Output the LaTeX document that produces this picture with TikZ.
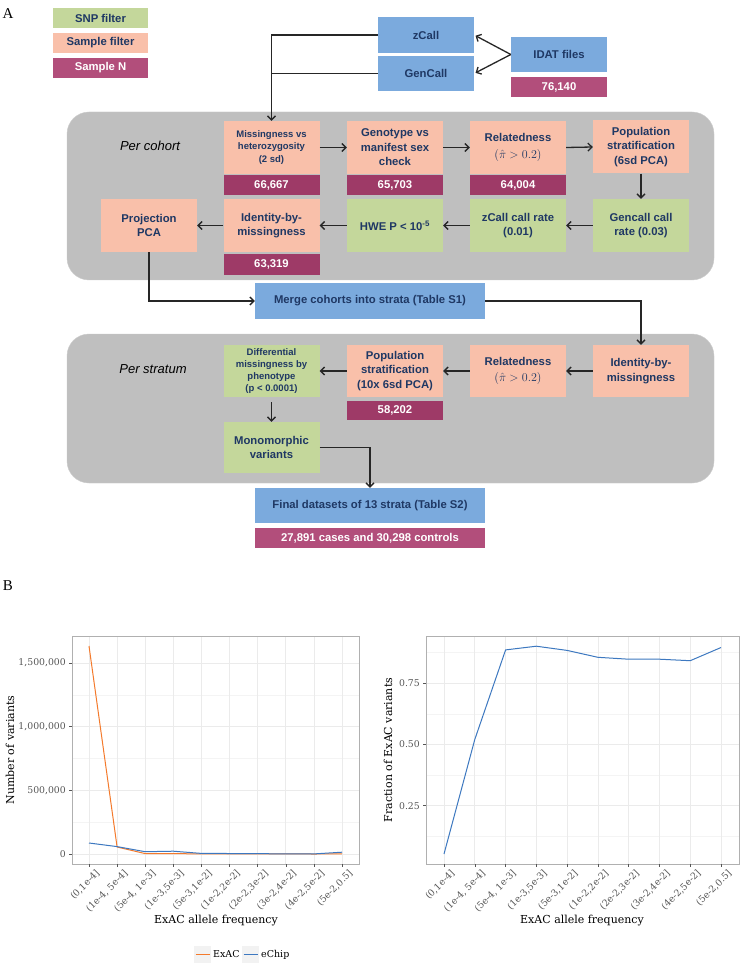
\documentclass[tikz,border=0pt]{standalone}
\usepackage{fontspec}
\setmainfont{Liberation Sans}
\newfontfamily\plotfont{DejaVu Serif}
\newfontfamily\labfont{Liberation Serif}
\usetikzlibrary{arrows.meta}
\definecolor{snpg}{HTML}{C4D79B}
\definecolor{samp}{HTML}{F9C0AA}
\definecolor{sampN}{HTML}{B24E7B}
\definecolor{cntN}{HTML}{9E3A67}
\definecolor{bluebox}{HTML}{7BAADD}
\definecolor{navy}{HTML}{1F3864}
\definecolor{panelgray}{HTML}{BFBFBF}
\definecolor{arrowc}{HTML}{262626}
\definecolor{exacc}{HTML}{F47A2C}
\definecolor{echipc}{HTML}{3D78C0}
\definecolor{gridmaj}{HTML}{EBEBEB}
\definecolor{gridmin}{HTML}{F4F4F4}
\definecolor{bordc}{HTML}{B0B0B0}
\definecolor{tickc}{HTML}{555555}
\tikzset{
  box/.style={draw=none, minimum width=96pt, inner sep=1pt, align=center, text=navy,
    font=\bfseries\fontsize{11.3}{14.5}\selectfont},
  snpbox/.style={box, fill=snpg},
  smpbox/.style={box, fill=samp},
  blubox/.style={box, fill=bluebox},
  cntbox/.style={box, fill=cntN, text=white, minimum height=20pt},
  legbox/.style={box, minimum width=95pt, minimum height=20pt},
  smallt/.style={font=\bfseries\fontsize{9.5}{12.3}\selectfont},
  arr/.style={-{Straight Barb[length=4pt,width=8pt]}, line width=1.3pt, draw=arrowc},
  ln/.style={line width=1.3pt, draw=arrowc},
  region/.style={fill=panelgray, draw=gray!40, rounded corners=22pt},
  regiontitle/.style={font=\itshape\fontsize{13}{13}\selectfont, text=black},
  ticklab/.style={font=\plotfont\fontsize{9.3}{11}\selectfont, text=tickc},
  axtitle/.style={font=\plotfont\fontsize{11}{13}\selectfont, text=black},
  majg/.style={draw=gridmaj, line width=0.6pt},
  ming/.style={draw=gridmin, line width=0.4pt},
  tickm/.style={draw=tickc, line width=0.5pt},
}
\newcommand{\relmath}{\fontsize{12.5}{14}\selectfont$(\hat{\pi} > 0.2)$}
\begin{document}
\begin{tikzpicture}[x=1pt,y=-1pt]
\useasboundingbox (0,0) rectangle (747,965);
\fill[white] (0,0) rectangle (747,965);

% panel letters
\node[font=\labfont\fontsize{15}{15}\selectfont] (labA) at (8,14) {A};
\node[font=\labfont\fontsize{15}{15}\selectfont] (labB) at (8,586) {B};

% legend
\node[legbox, fill=snpg] (legsnp) at (100.5,18) {SNP filter};
\node[legbox, fill=samp] (legsmp) at (100.5,43) {Sample filter};
\node[legbox, fill=sampN, text=white] (legn) at (100.5,68) {Sample N};

% gray regions
\draw[region] (67,112) rectangle (714,280);
\draw[region] (67,334) rectangle (714,483);
\node[regiontitle] (tcohort) at (150,146) {Per cohort};
\node[regiontitle] (tstratum) at (153,369) {Per stratum};

% top
\node[blubox, minimum height=36pt] (zcall) at (426,35) {zCall};
\node[blubox, minimum height=35pt] (gencall) at (426,73.5) {GenCall};
\node[blubox, minimum height=35pt] (idat) at (559,54.5) {IDAT files};
\node[cntbox, fill=sampN] (idatn) at (559,87) {76,140};

% per cohort row 1
\node[smpbox, minimum height=53pt, smallt] (miss) at (271.5,147.5) {Missingness vs\\heterozygosity\\(2 sd)};
\node[cntbox] (missn) at (271.5,185) {66,667};
\node[smpbox, minimum height=53pt] (geno) at (395,147.5) {Genotype vs\\manifest sex\\check};
\node[cntbox] (genon) at (395,185) {65,703};
\node[smpbox, minimum height=53pt] (rel) at (518,147.5) {Relatedness\\[2pt]\relmath};
\node[cntbox] (reln) at (518,185) {64,004};
\node[smpbox, minimum height=53pt] (pop) at (641,147) {Population\\stratification\\(6sd PCA)};

% per cohort row 2
\node[snpbox, minimum height=53pt] (gcrate) at (641,225.5) {Gencall call\\rate (0.03)};
\node[snpbox, minimum height=53pt] (zcrate) at (518,225.5) {zCall call rate\\(0.01)};
\node[snpbox, minimum height=53pt] (hwe) at (395,225.5) {HWE P < 10\textsuperscript{-5}};
\node[smpbox, minimum height=53pt] (ibm) at (271.5,225.5) {Identity-by-\\missingness};
\node[cntbox, minimum height=21pt] (ibmn) at (271.5,264.5) {63,319};
\node[smpbox, minimum height=53pt] (proj) at (149,225.5) {Projection\\PCA};

% merge
\node[blubox, minimum width=230pt, minimum height=36pt] (merge) at (370,301) {Merge cohorts into strata (Table S1)};

% per stratum
\node[smpbox, minimum height=52pt] (ibm2) at (641,371) {Identity-by-\\missingness};
\node[smpbox, minimum height=52pt] (rel2) at (518,371) {Relatedness\\[2pt]\relmath};
\node[smpbox, minimum height=52pt] (pop2) at (395,371) {Population\\stratification\\(10x 6sd PCA)};
\node[cntbox, minimum height=19pt] (pop2n) at (395,410.5) {58,202};
\node[snpbox, minimum height=52pt, font=\bfseries\fontsize{9.5}{12}\selectfont] (diff) at (271.5,371) {Differential\\missingness by\\phenotype\\(p < 0.0001)};
\node[snpbox, minimum height=51pt] (mono) at (271.5,447.5) {Monomorphic\\variants};

% final
\node[blubox, minimum width=230pt, minimum height=35pt] (final) at (370,505.5) {Final datasets of 13 strata (Table S2)};
\node[cntbox, fill=sampN, minimum width=230pt] (finaln) at (370,538) {27,891 cases and 30,298 controls};

% connectors
\draw[arr, shorten >=1.5pt] (idat.west) -- (zcall.east);
\draw[arr, shorten >=1.5pt] (idat.west) -- (gencall.east);
\draw[arr] (zcall.west) -| (miss.north);
\draw[ln] (gencall.west) -- (gencall.west -| miss.north);
\draw[arr] (miss.east) -- (geno.west);
\draw[arr] (geno.east) -- (rel.west);
\draw[arr] (rel.east) -- (pop.west);
\draw[arr] (pop.south) -- (gcrate.north);
\draw[arr] (gcrate.west) -- (zcrate.east);
\draw[arr] (zcrate.west) -- (hwe.east);
\draw[arr] (hwe.west) -- (ibm.east);
\draw[arr] (ibm.west) -- (proj.east);
\draw[arr] (proj.south) |- (merge.west);
\draw[arr] (merge.east) -| (ibm2.north);
\draw[arr] (ibm2.west) -- (rel2.east);
\draw[arr] (rel2.west) -- (pop2.east);
\draw[arr] (pop2.west) -- (diff.east);
\draw[arr, shorten <=5pt] (diff.south) -- (mono.north);
\draw[arr] (mono.east) -| (final.north);

% ===== Plot B left =====
\fill[white] (72,636) rectangle (359,864);
\foreach \y in {822.2,758.5,694.8} \draw[ming] (72,\y) -- (359,\y);
\foreach \y in {854,790.3,726.6,662.9} \draw[majg] (72,\y) -- (359,\y);
\foreach \i in {0,...,9} \draw[majg] ({89+28.11*\i},636) -- ({89+28.11*\i},864);
\draw[exacc, line width=1pt, line join=round] plot coordinates {(89,646.0) (117.1,847.0) (145.2,853.6) (173.3,853.6) (201.4,853.9) (229.6,853.9) (257.7,853.9) (285.8,853.9) (313.9,854) (342,853.9)};
\draw[echipc, line width=1pt, line join=round] plot coordinates {(89,843.0) (117.1,846.6) (145.2,851.7) (173.3,851.2) (201.4,853.4) (229.6,853.5) (257.7,853.7) (285.8,853.8) (313.9,853.9) (342,852.2)};
\draw[bordc, line width=0.8pt] (72,636) rectangle (359,864);
\foreach \y/\t in {854/0, 790.3/{500,000}, 726.6/{1,000,000}, 662.9/{1,500,000}} {
  \draw[tickm] (69,\y) -- (72,\y);
  \node[ticklab, anchor=east, inner sep=1pt] at (67,\y) {\t};
}
\foreach \i/\t in {0/{(0,1e-4]},1/{(1e-4, 5e-4]},2/{(5e-4, 1e-3]},3/{(1e-3,5e-3]},4/{(5e-3,1e-2]},5/{(1e-2,2e-2]},6/{(2e-2,3e-2]},7/{(3e-2,4e-2]},8/{(4e-2,5e-2]},9/{(5e-2,0.5]}} {
  \draw[tickm] ({89+28.11*\i},864) -- ({89+28.11*\i},867);
  \node[ticklab, anchor=north east, rotate=45, inner sep=0.5pt] at ({89+28.11*\i+6},868) {\t};
}
\node[axtitle, rotate=90] (ylabL) at (10,750) {Number of variants};
\node[axtitle] (xlabL) at (216,921) {ExAC allele frequency};

% legend of plot
\fill[gray!10] (194,946) rectangle (211,963);
\draw[exacc, line width=1pt] (195.5,954.5) -- (209.5,954.5);
\node[axtitle, font=\plotfont\fontsize{9.5}{11}\selectfont, anchor=west, inner sep=1pt] (legexac) at (212,954.5) {ExAC};
\fill[gray!10] (242,946) rectangle (259,963);
\draw[echipc, line width=1pt] (243.5,954.5) -- (257.5,954.5);
\node[axtitle, font=\plotfont\fontsize{9.5}{11}\selectfont, anchor=west, inner sep=1pt] (legechip) at (260,954.5) {eChip};

% ===== Plot B right =====
\fill[white] (426,636) rectangle (739,864);
\foreach \y in {836.3,775.0,713.7,652.4} \draw[ming] (426,\y) -- (739,\y);
\foreach \y in {805.7,744.4,683.0} \draw[majg] (426,\y) -- (739,\y);
\foreach \i in {0,...,9} \draw[majg] ({444+30.78*\i},636) -- ({444+30.78*\i},864);
\draw[echipc, line width=1pt, line join=round] plot coordinates {(444,854.0) (474.8,739.4) (505.6,649.9) (536.3,646.2) (567.1,650.4) (597.9,657.3) (628.7,659.2) (659.5,659.2) (690.2,660.7) (721,647.5)};
\draw[bordc, line width=0.8pt] (426,636) rectangle (739,864);
\foreach \y/\t in {805.7/0.25, 744.4/0.50, 683.0/0.75} {
  \draw[tickm] (423,\y) -- (426,\y);
  \node[ticklab, anchor=east, inner sep=1pt] at (421,\y) {\t};
}
\foreach \i/\t in {0/{(0,1e-4]},1/{(1e-4, 5e-4]},2/{(5e-4, 1e-3]},3/{(1e-3,5e-3]},4/{(5e-3,1e-2]},5/{(1e-2,2e-2]},6/{(2e-2,3e-2]},7/{(3e-2,4e-2]},8/{(4e-2,5e-2]},9/{(5e-2,0.5]}} {
  \draw[tickm] ({444+30.78*\i},864) -- ({444+30.78*\i},867);
  \node[ticklab, anchor=north east, rotate=45, inner sep=0.5pt] at ({444+30.78*\i+6},868) {\t};
}
\node[axtitle, rotate=90] (ylabR) at (388,750) {Fraction of ExAC variants};
\node[axtitle] (xlabR) at (582,921) {ExAC allele frequency};
\end{tikzpicture}
\end{document}
